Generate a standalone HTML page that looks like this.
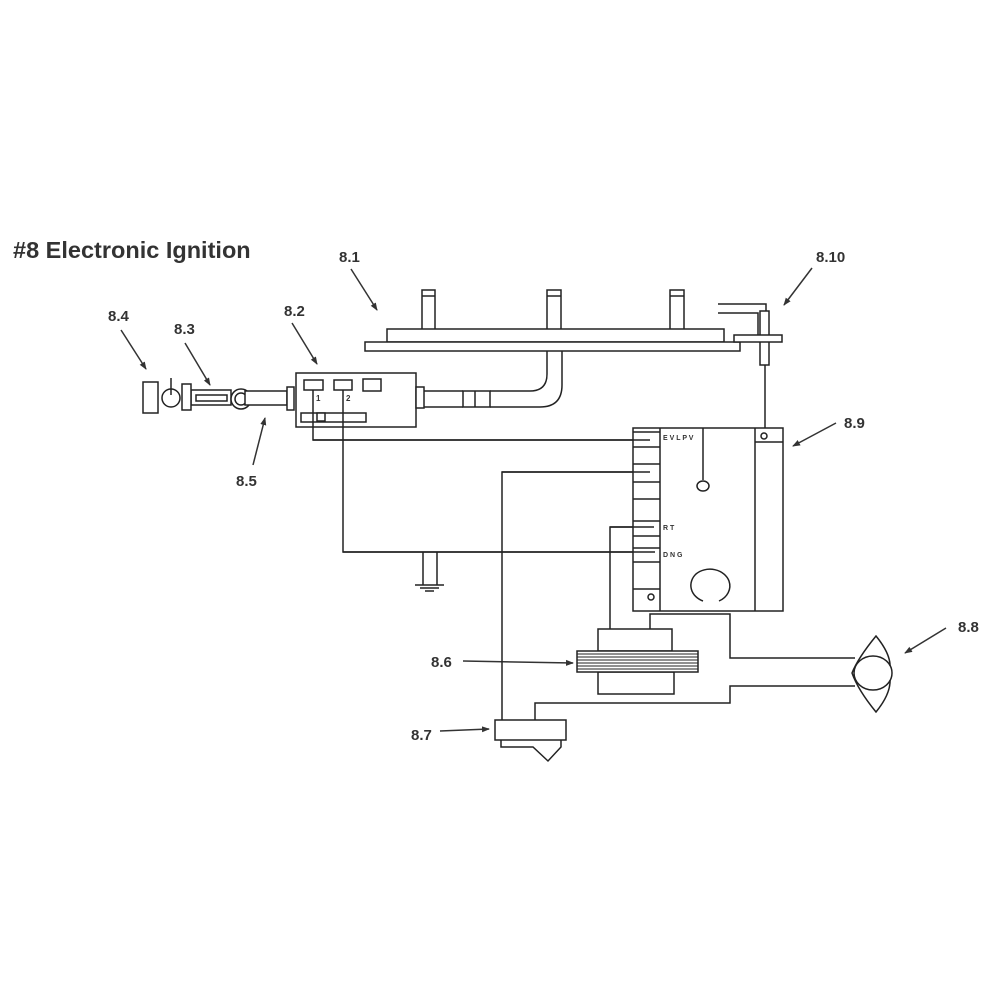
<!DOCTYPE html>
<html><head><meta charset="utf-8"><style>
html,body{margin:0;padding:0;background:#fff;}
svg{display:block;}
text{font-family:"Liberation Sans",Arial,sans-serif;font-weight:bold;fill:#333;}
</style></head><body>
<svg width="1000" height="1000" viewBox="0 0 1000 1000" xmlns="http://www.w3.org/2000/svg">
<defs><marker id="ah" markerWidth="8" markerHeight="8" refX="7" refY="4" orient="auto" markerUnits="userSpaceOnUse"><path d="M0,1 L8,4 L0,7 Z" fill="#333"/></marker></defs>
<text x="13" y="258" font-size="23.5">#8 Electronic Ignition</text>
<g font-size="15">
<text x="339" y="262">8.1</text>
<text x="816" y="262">8.10</text>
<text x="108" y="321">8.4</text>
<text x="174" y="334">8.3</text>
<text x="284" y="316">8.2</text>
<text x="236" y="486">8.5</text>
<text x="844" y="428">8.9</text>
<text x="958" y="632">8.8</text>
<text x="431" y="667">8.6</text>
<text x="411" y="740">8.7</text>
</g>
<g stroke="#333" stroke-width="1.5" fill="none" marker-end="url(#ah)">
<line x1="351" y1="269" x2="377" y2="310"/>
<line x1="812" y1="268" x2="784" y2="305"/>
<line x1="121" y1="330" x2="146" y2="369"/>
<line x1="185" y1="343" x2="210" y2="385"/>
<line x1="292" y1="323" x2="317" y2="364"/>
<line x1="253" y1="465" x2="265" y2="418"/>
<line x1="836" y1="423" x2="793" y2="446"/>
<line x1="946" y1="628" x2="905" y2="653"/>
<line x1="463" y1="661" x2="573" y2="663"/>
<line x1="440" y1="731" x2="489" y2="729"/>
</g>
<g stroke="#222" stroke-width="1.5" fill="#fff">
<rect x="422" y="290" width="13" height="40"/><line x1="422" y1="296" x2="435" y2="296"/>
<rect x="547" y="290" width="14" height="40"/><line x1="547" y1="296" x2="561" y2="296"/>
<rect x="670" y="290" width="14" height="40"/><line x1="670" y1="296" x2="684" y2="296"/>
<rect x="387" y="329" width="337" height="13"/>
<rect x="365" y="342" width="375" height="9"/>
<path d="M424,391 H463 M424,407 H463" fill="none"/>
<path d="M490,391 H530 Q547,391 547,374 V351 M490,407 H540 Q562,407 562,385 V351" fill="none"/>
<rect x="463" y="391" width="27" height="16"/><line x1="475" y1="391" x2="475" y2="407"/>
<path d="M718,304 H766 V311 M718,313 H758 V335" fill="none"/>
<rect x="760" y="311" width="9" height="54"/>
<rect x="734" y="335" width="48" height="7"/>
<line x1="765" y1="365" x2="765" y2="429"/>
<rect x="296" y="373" width="120" height="54"/>
<rect x="304" y="380" width="19" height="10"/>
<rect x="334" y="380" width="18" height="10"/>
<rect x="363" y="379" width="18" height="12"/>
<rect x="301" y="413" width="65" height="9"/>
<rect x="317" y="413" width="8" height="8"/>
<rect x="416" y="387" width="8" height="21"/>
<rect x="143" y="382" width="15" height="31"/>
<circle cx="171" cy="398" r="9"/>
<line x1="171" y1="378" x2="171" y2="395"/>
<rect x="191" y="390" width="40" height="15"/>
<rect x="196" y="395" width="31" height="6"/>
<rect x="182" y="384" width="9" height="26"/>
<circle cx="241" cy="399" r="10"/>
<circle cx="241" cy="399" r="6"/>
<rect x="245" y="391" width="42" height="14"/>
<rect x="287" y="387" width="7" height="23"/>
</g>
<g font-size="8">
<text x="316" y="401">1</text><text x="346" y="401">2</text>
</g>
<g stroke="#222" stroke-width="1.5" fill="none">
<path d="M313,390 V440 H650"/>
<path d="M343,390 V552 H655"/>
<path d="M423,552 V585 M437,552 V585 M415,585 H444 M420,588 H439 M425,591 H434"/>
<path d="M502,720 V472 H650"/>
<path d="M610,629 V527 H654"/>
<path d="M650,629 V614 H730 V658 H855"/>
<path d="M855,686 H730 V703 H535 V720"/>
<line x1="660" y1="491" x2="650" y2="491"/>
</g>
<g stroke="#222" stroke-width="1.5" fill="none">
<rect x="633" y="428" width="150" height="183" fill="#fff"/>
<line x1="660" y1="428" x2="660" y2="611"/>
<line x1="755" y1="428" x2="755" y2="611"/>
<line x1="755" y1="442" x2="783" y2="442"/>
<circle cx="764" cy="436" r="3"/>
<path d="M633,432 H660 M633,447 H660 M633,464 H660 M633,482 H660 M633,499 H660 M633,521 H660 M633,536 H660 M633,548 H660 M633,562 H660 M633,589 H660"/>
<circle cx="651" cy="597" r="3"/>
<line x1="703" y1="428" x2="703" y2="480"/>
<ellipse cx="703" cy="486" rx="6" ry="5"/>
<path d="M703,601 A20,17 0 0 1 696,574 A20,17 0 0 1 729,581 A20,17 0 0 1 719,601"/>
<path d="M313,440 H650 M502,472 H650 M343,552 H655 M610,527 H654"/>
</g>
<g font-size="7" font-family="Liberation Mono" fill="#333">
<text x="663" y="440">E V L P V</text>
<text x="663" y="530">R T</text>
<text x="663" y="557">D N G</text>
</g>
<g stroke="#222" stroke-width="1.5" fill="#fff">
<rect x="598" y="629" width="74" height="22"/>
<rect x="598" y="672" width="76" height="22"/>
<rect x="577" y="651" width="121" height="21"/>
</g>
<g stroke="#222" stroke-width="1">
<path d="M577,654 H698 M577,657 H698 M577,660 H698 M577,663 H698 M577,666 H698 M577,669 H698"/>
</g>
<g stroke="#222" stroke-width="1.5" fill="#fff">
<path d="M876,636 Q858,658 852,673 Q858,690 876,712 Q894,690 889,673 Q894,658 876,636 Z"/>
<ellipse cx="873" cy="673" rx="19" ry="17"/>
</g>
<g stroke="#222" stroke-width="1.5" fill="#fff">
<rect x="495" y="720" width="71" height="20"/>
<path d="M501,740 V747 H533 L548,761 L561,747 V740" fill="none"/>
</g>
</svg>
</body></html>
